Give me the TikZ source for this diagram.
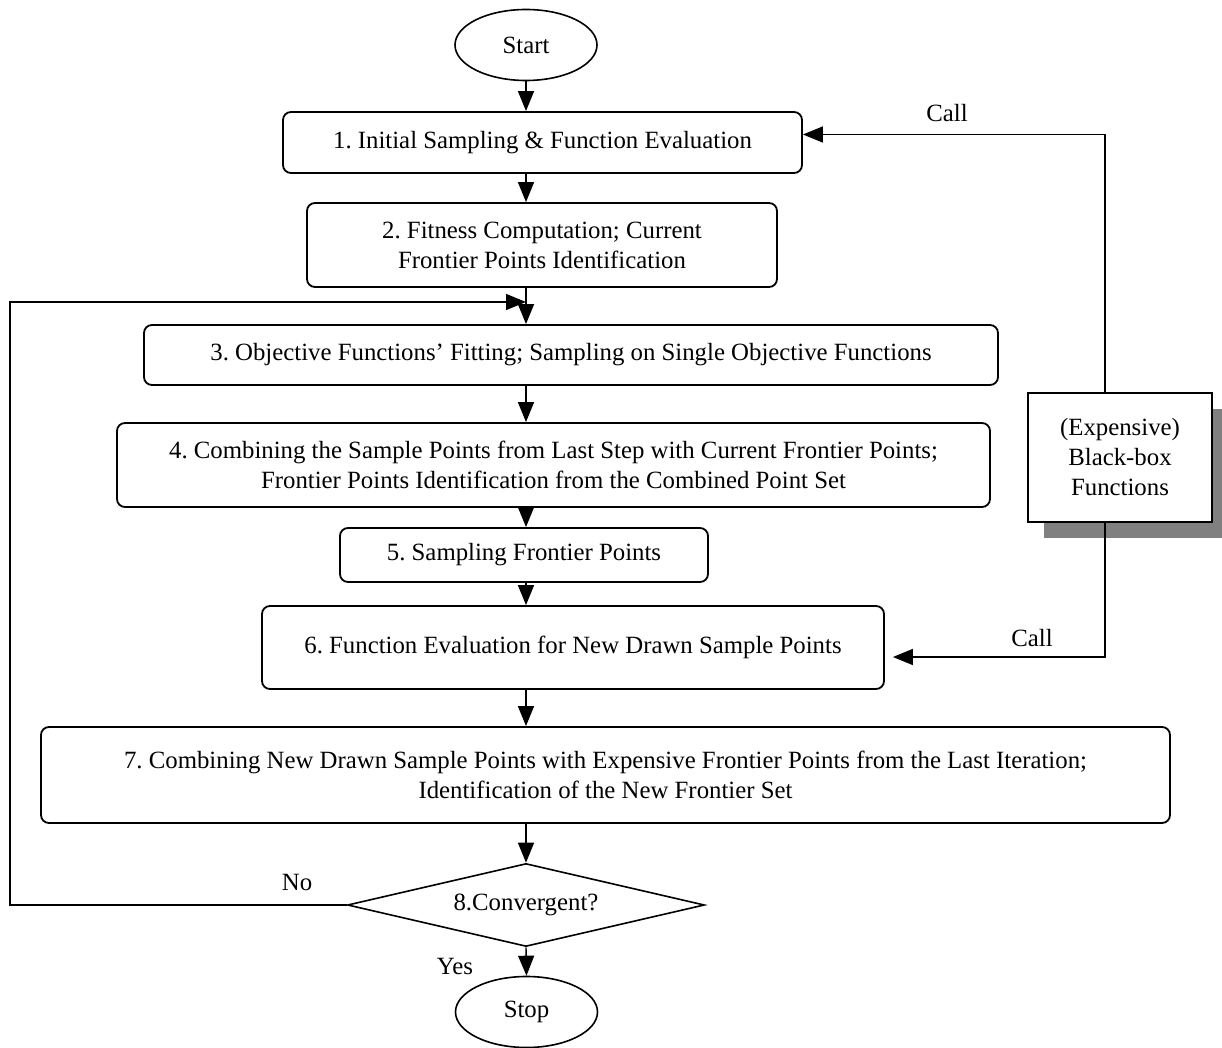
\documentclass[tikz,border=0pt]{standalone}
\usepackage{fontspec}
\setmainfont{Liberation Serif}
\frenchspacing
\usetikzlibrary{arrows.meta,shapes.geometric,shadows}
\tikzset{
  proc/.style={draw, line width=0.9pt, rounded corners=4pt, align=center, inner sep=2pt},
  term/.style={draw, ellipse, line width=0.8pt, minimum width=71pt, minimum height=35.5pt, inner sep=0pt},
  test/.style={draw, diamond, aspect=4.3, line width=0.8pt, minimum width=178.5pt, minimum height=41.5pt, inner sep=0pt},
  flow/.style={line width=0.7pt, -{Triangle[length=10pt,width=8pt]}},
  lbl/.style={inner sep=0pt}
}
\begin{document}
\begin{tikzpicture}[x=0.5pt, y=-0.5pt, font=\fontsize{12.4}{15}\selectfont]
      \useasboundingbox (0,0) rectangle (1222,1048);
      \node[term] (start) at (526,45) {Start};
      \node[proc, minimum width=259.5pt, minimum height=30.5pt] (b1) at (542.5,142.5)
        {1. Initial Sampling \& Function Evaluation};
      \node[proc, minimum width=235pt, minimum height=42pt] (b2) at (542,245)
        {2. Fitness Computation; Current\\Frontier Points Identification};
      \node[proc, minimum width=427pt, minimum height=30pt] (b3) at (571,355)
        {3. Objective Functions' Fitting; Sampling on Single Objective Functions};
      \node[proc, minimum width=436.5pt, minimum height=42pt] (b4) at (553.5,465)
        {4. Combining the Sample Points from Last Step with Current Frontier Points;\\Frontier Points Identification from the Combined Point Set};
      \node[proc, minimum width=184pt, minimum height=27pt] (b5) at (524,555)
        {5. Sampling Frontier Points};
      \node[proc, minimum width=311pt, minimum height=41.5pt] (b6) at (573,647.5)
        {6. Function Evaluation for New Drawn Sample Points};
      \node[proc, minimum width=564.5pt, minimum height=48pt] (b7) at (605.5,775)
        {7. Combining New Drawn Sample Points with Expensive Frontier Points from the Last Iteration;\\Identification of the New Frontier Set};
      \node[test] (conv) at (526,905) {8.Convergent?};
      \node[term] (stop) at (526.5,1012) {Stop};
      \node[draw, line width=0.9pt, fill=white, align=center, minimum width=92pt, minimum height=64.5pt,
        drop shadow={shadow xshift=8pt, shadow yshift=-8pt, fill=gray, opacity=1}] (bb) at (1120,457.5)
        {(Expensive)\\Black-box\\Functions};
      \coordinate (back) at (10,302);
      % main flow
      \draw[flow] (start.south) -- (start |- b1.north);
      \draw[flow] (start |- b1.south) -- (start |- b2.north);
      \draw[flow] (start |- b2.south) -- (start |- b3.north);
      \draw[flow] (start |- b3.south) -- (start |- b4.north);
      \draw[flow] (start |- b4.south) -- (start |- b5.north);
      \draw[flow] (start |- b5.south) -- (start |- b6.north);
      \draw[flow] (start |- b6.south) -- (start |- b7.north);
      \draw[flow] (start |- b7.south) -- (conv.north);
      \draw[flow] (conv.south) -- (stop.north);
      % loop back
      \draw[flow] (conv.west) -| (back) -- (start |- back);
      % calls
      \draw[flow] ([xshift=-7.5pt]bb.north) |- ([yshift=4pt]b1.east);
      \draw[flow] ([xshift=-7.5pt]bb.south) |- ([yshift=-4.75pt,xshift=4pt]b6.east);
      \node[lbl] (call1) at (947,113) {Call};
      \node[lbl] (call2) at (1032,638) {Call};
      \node[lbl] (no) at (297,882) {No};
      \node[lbl] (yes) at (455,966) {Yes};
    \end{tikzpicture}
\end{document}
